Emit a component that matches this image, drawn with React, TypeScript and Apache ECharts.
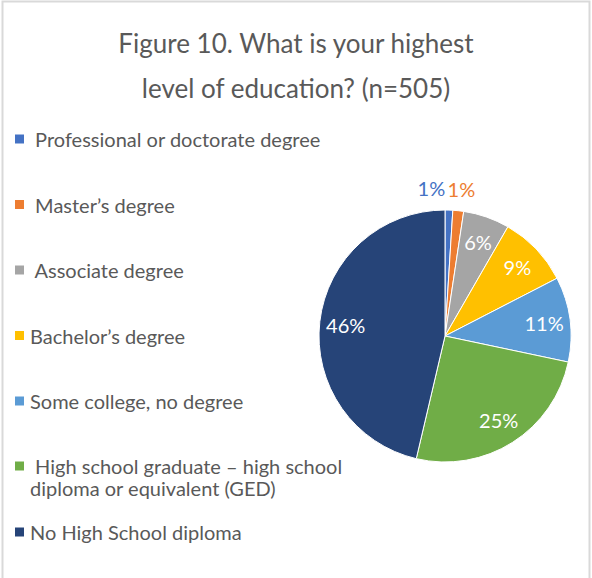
import React, { useEffect, useRef } from "react";
import * as echarts from "echarts";

const categories = [
  " Professional or doctorate degree",
  " Master’s degree",
  " Associate degree",
  "Bachelor’s degree",
  "Some college, no degree",
  " High school graduate – high school diploma or equivalent (GED)",
  "No High School diploma",
];
const counts = [5, 7, 30, 46, 55, 128, 234];
const colors = ["#4472C4", "#ED7D31", "#A5A5A5", "#FFC000", "#5B9BD5", "#70AD47", "#264478"];
const titleLines = ["Figure 10. What is your highest", "level of education? (n=505)"];

const FONT = "Lato";
const GREY = "#595959";

export default function App() {
  const ref = useRef<HTMLDivElement>(null);
  useEffect(() => {
    const chart = echarts.init(ref.current!, null, { renderer: "svg" });
    const total = counts.reduce((a, b) => a + b, 0);
    // Two-line legend entry: an empty first line keeps the marker level with the first text line
    const wrap = (name: string) =>
      name.indexOf(" diploma or equivalent (GED)") >= 0
        ? "\n" + name.replace(" diploma or equivalent (GED)", "\ndiploma or equivalent (GED)")
        : name;
    const legendText = {
      fontFamily: FONT,
      fontSize: 20,
      color: GREY,
      lineHeight: 22,
    };
    const smallOffsets = [[-37, 0], [-18, 0]];
    const option: any = {
      animation: false,
      backgroundColor: "#ffffff",
      color: colors,
      title: {
        text: titleLines.join("\n"),
        left: "center",
        top: 15,
        textStyle: {
          fontFamily: FONT,
          fontSize: 26,
          fontWeight: "normal",
          color: GREY,
          lineHeight: 45,
        },
      },
      legend: [
        {
          orient: "vertical",
          left: 13,
          top: 128,
          padding: 0,
          itemWidth: 11,
          itemHeight: 11,
          itemGap: 43.5,
          selectedMode: false,
          icon: "rect",
          data: categories.slice(0, 5),
          textStyle: legendText,
        },
        {
          orient: "vertical",
          left: 13,
          top: 433,
          padding: 0,
          itemWidth: 11,
          itemHeight: 11,
          itemGap: 22,
          selectedMode: false,
          icon: "rect",
          data: categories.slice(5),
          formatter: wrap,
          textStyle: legendText,
        },
      ],
      graphic: [
        {
          type: "polyline",
          silent: true,
          shape: { points: [[2.5, 600], [2.5, 1.5], [589.5, 1.5], [589.5, 600]] },
          style: { stroke: "#d9d9d9", lineWidth: 2, fill: "none" },
        },
      ],
      series: [
        {
          type: "pie",
          center: [445, 336],
          radius: 126,
          startAngle: 90,
          clockwise: true,
          silent: true,
          label: { show: false },
          labelLine: { show: false },
          itemStyle: { borderColor: "#ffffff", borderWidth: 1 },
          data: categories.map((name, i) => ({ name, value: counts[i] })),
        },
        {
          type: "pie",
          center: [445, 336],
          radius: [68, 126],
          startAngle: 90,
          clockwise: true,
          silent: true,
          avoidLabelOverlap: false,
          legendHoverLink: false,
          itemStyle: { color: "rgba(0,0,0,0)" },
          labelLine: { show: false, length: 22, length2: 0 },
          data: categories.map((name, i) => {
            const pct = counts[i] / total;
            const small = pct < 0.03;
            return {
              name,
              value: counts[i],
              itemStyle: { color: "rgba(0,0,0,0)" },
              label: small
                ? { position: "outside", color: colors[i], offset: smallOffsets[i] }
                : { position: "inside", color: "#ffffff" },
            };
          }),
          label: {
            show: true,
            formatter: (p: any) => Math.round(p.percent) + "%",
            fontFamily: FONT,
            fontSize: 20,
          },
        },
      ],
    };
    chart.setOption(option);
    return () => chart.dispose();
  }, []);
  return (
    <div
      ref={ref}
      style={{ position: "fixed", left: 0, top: 0, width: 592, height: 578 }}
    />
  );
}
